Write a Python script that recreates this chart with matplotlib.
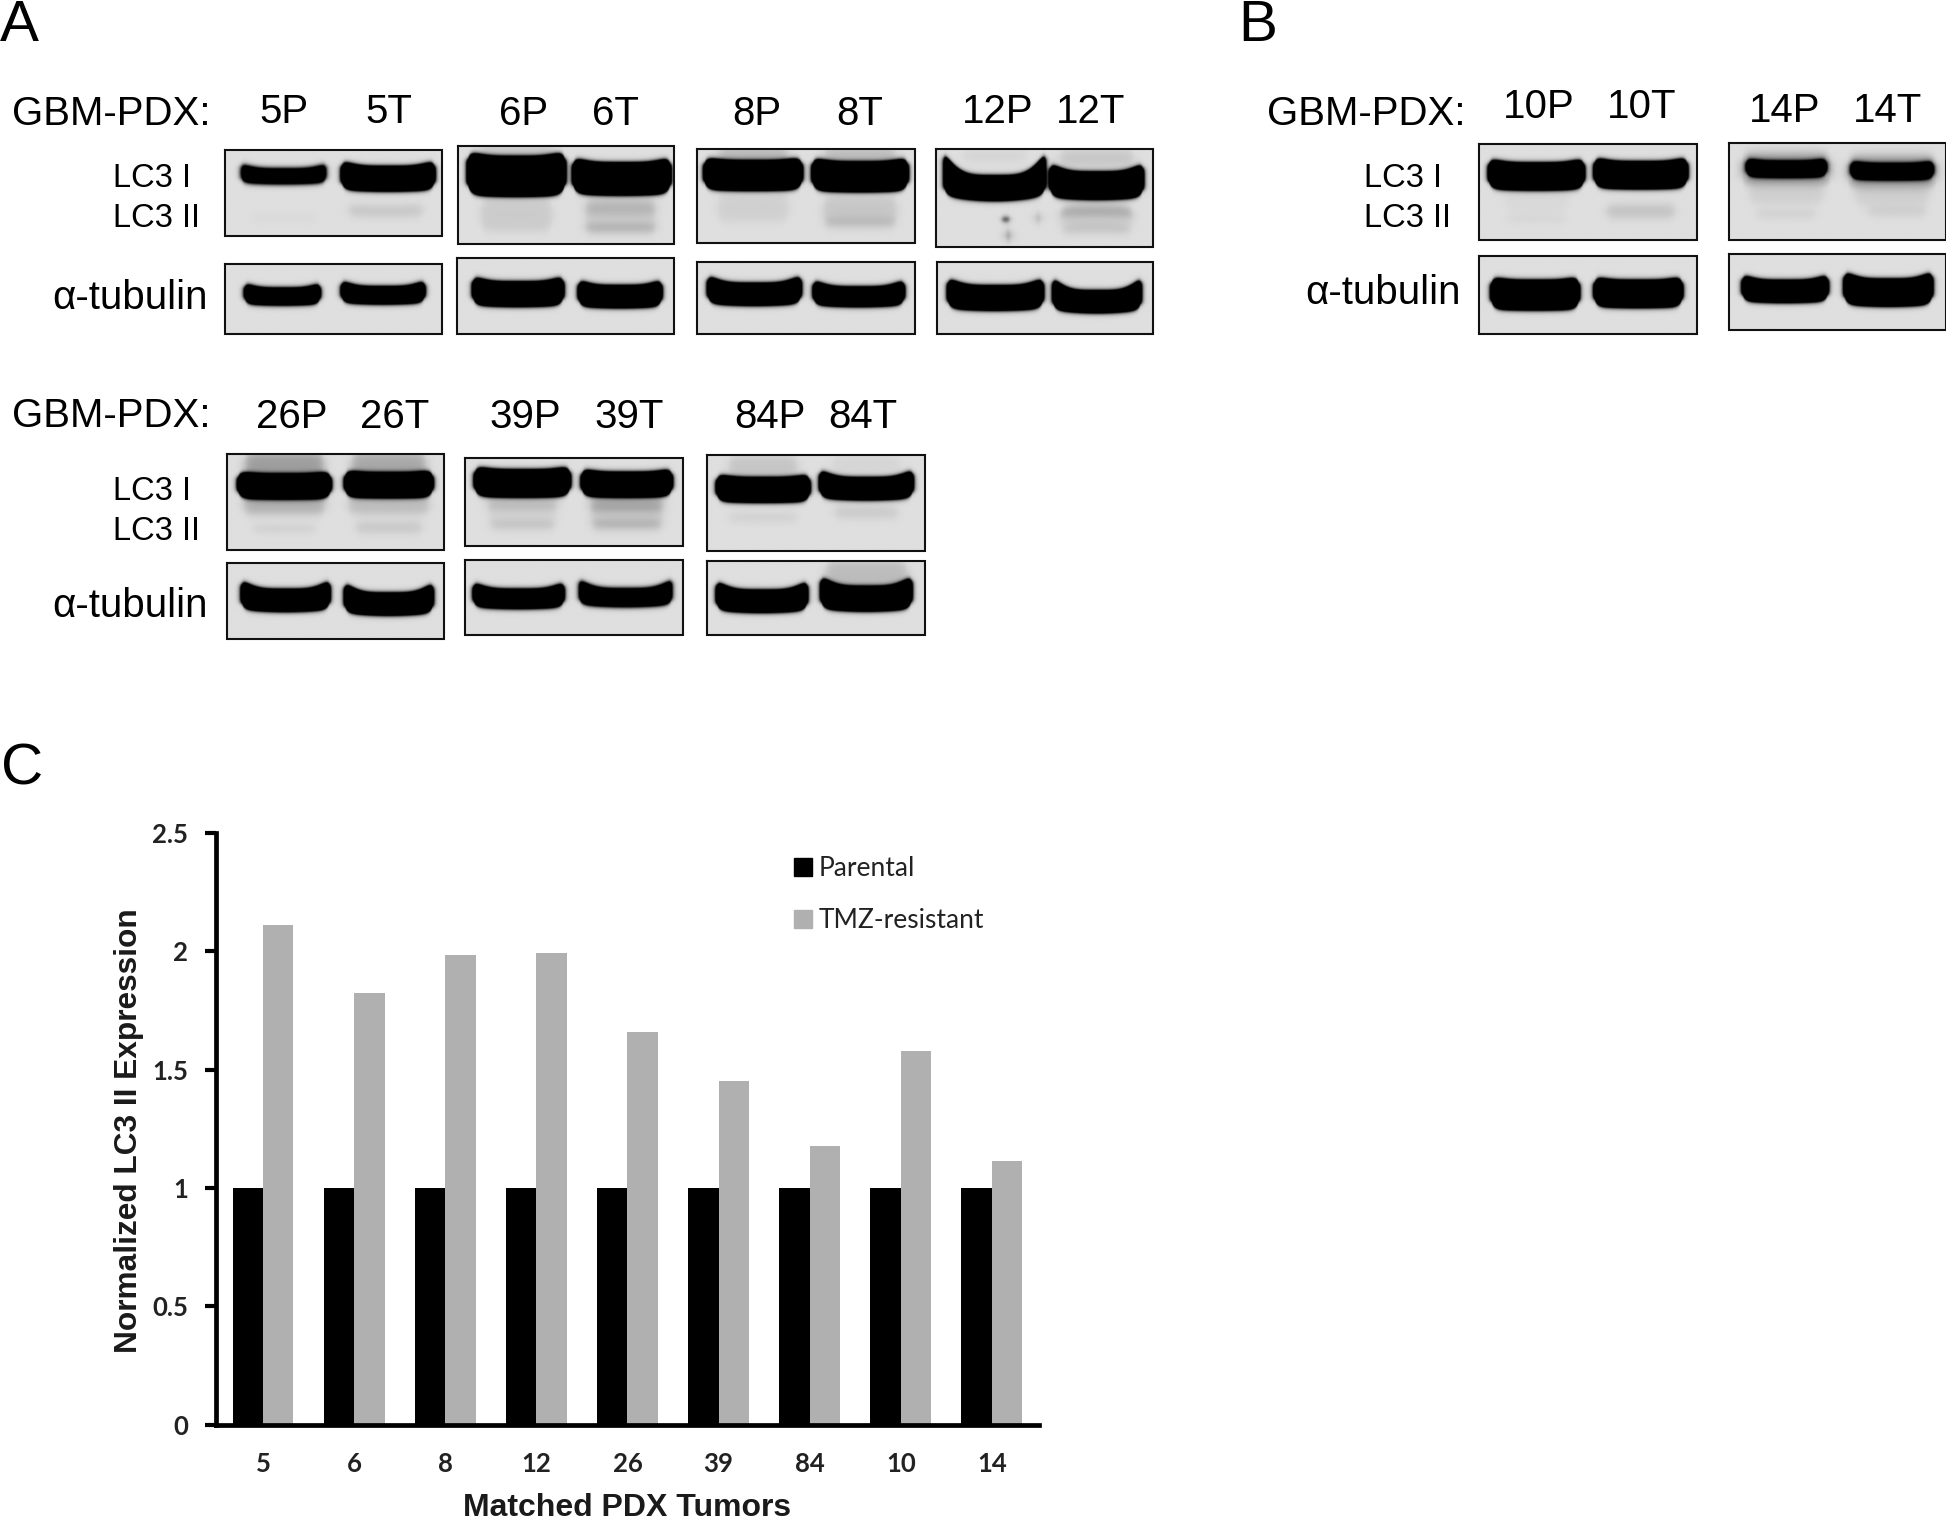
import numpy as np
import matplotlib
matplotlib.use("Agg")
import matplotlib.pyplot as plt
from matplotlib.patches import Patch

# ---------- bar chart data ----------
tumors = ["5", "6", "8", "12", "26", "39", "84", "10", "14"]
parental = [1, 1, 1, 1, 1, 1, 1, 1, 1]
resistant = [2.11, 1.825, 1.985, 1.99, 1.66, 1.45, 1.175, 1.58, 1.115]
y_ticks = [0, 0.5, 1, 1.5, 2, 2.5]
y_tick_labels = ["0", "0.5", "1", "1.5", "2", "2.5"]

# ---------- lane labels: (text, centre x, baseline y) ----------
lane_labels = [
    ("5P", 229, 99), ("5T", 313, 99), ("6P", 422, 101), ("6T", 496, 101),
    ("8P", 610, 101), ("8T", 693, 101), ("12P", 804, 99), ("12T", 879, 99),
    ("26P", 235, 345), ("26T", 318, 345), ("39P", 423, 345), ("39T", 507, 345),
    ("84P", 620, 345), ("84T", 695, 345),
    ("10P", 1240, 95), ("10T", 1323, 95), ("14P", 1438, 98), ("14T", 1521, 98),
]
gbm_labels = [(10, 101), (10, 344), (1021, 101)]
lc3_labels = [(91, 151), (91, 403), (1099, 151)]
tubulin_labels = [(167, 249), (167, 497), (1177, 245)]
letters = [("A", 0, 33), ("B", 998, 33), ("C", 1, 632)]

# ---------- blot panels: box (x0, y0, x1, y1) and bands
# band = (centre x, centre y, half width, half height, strength, end lift)
S = 6
blots = [
    # LC3 row 1
    ((181, 121, 356, 190), [(47, 21, 34, 6, 2.0, 5), (131, 23, 37, 9, S, 6),
                            (129, 49, 30, 4, .13, 1), (47, 55, 28, 3, .03, 0)]),
    ((369, 118, 543, 197), [(47, 25, 39, 15, S, 6), (132, 27, 39, 12, S, 6),
                            (47, 56, 29, 13, .09, 0), (131, 50, 29, 6, .15, 0), (131, 66, 29, 3, .2, 0),
                            (131, 58, 29, 12, .06, 0), (47, 6, 30, 6, .1, 0)]),
    ((562, 120, 737, 196), [(45, 22, 39, 11, S, 4), (131, 23, 38, 11, S, 5),
                            (45, 48, 29, 11, .07, 0), (131, 50, 30, 11, .11, 0), (131, 60, 29, 3, .13, 0),
                            (45, 5, 28, 6, .18, 0), (131, 5, 29, 6, .16, 0)]),
    ((754, 120, 929, 199), [(47, 32, 40, 9, S, 20), (129, 30, 37, 10, S, 9),
                            (129, 50, 30, 4, .22, -4), (129, 64, 28, 3, .1, -3), (129, 57, 30, 10, .06, 0),
                            (56, 57, 3, 1, 1.2, 0), (58, 70, 2, 1.5, .7, 0), (82, 56, 2, 1, .5, 0),
                            (47, 6, 26, 5, .05, 0), (129, 8, 30, 6, .12, 0)]),
    # LC3 row 2
    ((183, 366, 358, 443), [(46, 26, 37, 9, S, 3), (130, 25, 35, 9, S, 3),
                            (46, 41, 33, 7, .22, 0), (130, 41, 33, 7, .16, 0), (46, 60, 25, 1.5, .12, 0),
                            (130, 59, 27, 4, .12, 0), (46, 8, 32, 9, .3, 0), (130, 8, 30, 9, .25, 0)]),
    ((375, 369, 550, 440), [(46, 21, 38, 10, S, 4), (130, 22, 36, 9, S, 4),
                            (46, 38, 29, 4, .16, 0), (130, 38, 30, 5, .24, 0), (46, 54, 26, 3, .13, 0),
                            (130, 54, 28, 3, .2, 0), (130, 46, 30, 9, .08, 0), (46, 46, 28, 9, .04, 0)]),
    ((570, 367, 745, 444), [(45, 28, 37, 9, S, 4), (128, 27, 37, 8, S, 8),
                            (45, 50, 28, 3, .08, 0), (128, 46, 26, 4, .11, 0), (45, 9, 28, 8, .12, 0),
                            (128, 7, 28, 6, .05, 0)]),
    # LC3 panel B
    ((1192, 116, 1367, 193), [(46, 26, 38, 10, S, 5), (130, 25, 37, 10, S, 5),
                              (46, 60, 24, 2, .06, 0), (130, 54, 28, 5, .14, 0), (46, 45, 26, 9, .03, 0)]),
    ((1393, 115, 1568, 193), [(46, 21, 32, 6, 2.4, 3), (131, 23, 33, 6, 2.4, 3),
                              (46, 21, 36, 13, .3, 0), (131, 23, 36, 13, .3, 0),
                              (46, 42, 30, 7, .07, 0), (131, 43, 30, 7, .07, 0),
                              (46, 57, 24, 2, .1, 0), (135, 55, 24, 3, .1, 0)]),
    # tubulin row 1
    ((181, 213, 356, 269), [(46, 26, 30, 6, 5, 5), (127, 25, 33, 6, S, 6)]),
    ((368, 208, 543, 269), [(49, 29, 36, 9, S, 6), (131, 31, 33, 8, S, 6)]),
    ((562, 211, 737, 269), [(46, 26, 37, 8, S, 8), (130, 28, 36, 7, S, 7)]),
    ((755, 211, 929, 269), [(47, 29, 38, 9, S, 8), (129, 32, 35, 8, S, 12)]),
    # tubulin row 2
    ((183, 454, 358, 515), [(47, 30, 35, 8, S, 9), (130, 33, 35, 8, S, 10)]),
    ((375, 451, 550, 512), [(43, 32, 36, 7, 5, 7), (129, 31, 37, 7, 2.6, 9)]),
    ((570, 452, 745, 512), [(44, 33, 36, 8, S, 9), (128, 31, 36, 9, S, 10), (128, 11, 33, 10, .16, 0)]),
    # tubulin panel B
    ((1192, 206, 1367, 269), [(45, 32, 35, 11, S, 4), (128, 31, 35, 10, S, 4)]),
    ((1393, 205, 1568, 266), [(45, 30, 34, 8, S, 6), (128, 31, 35, 10, S, 8)]),
]
BACKGROUND = 0.875


def smooth(d, edge):
    return 1 / (1 + np.exp(np.clip(-d / edge, -50, 50)))


def blot_image(box, bands):
    w, h = box[2] - box[0], box[3] - box[1]
    xs, ys = np.meshgrid(np.linspace(0, w, int(w * 3)), np.linspace(0, h, int(h * 3)))
    dens = np.zeros_like(xs)
    for xc, yc, hw, hh, st, lift in bands:
        edge = 1.2 if st > 1 else 2.2
        # saturated bands spread past their edge: pull them back a little
        shift = 0.35 * edge * np.log(st - 1) if st > 2 else 0
        u = np.minimum(np.abs(xs - xc) / hw, 1.0)
        r = np.sqrt(1 - 0.7 * u ** 10)
        top = yc - hh * r - lift * u ** 4
        bot = yc + hh * r - 0.2 * lift * u ** 2
        dens += st * smooth(hw - shift - np.abs(xs - xc), edge) \
            * smooth(ys - top - shift, edge) * smooth(bot - ys - shift, edge)
    return BACKGROUND * np.clip(1 - dens, 0, 1)


SANS = "Liberation Sans"
fig = plt.figure(figsize=(19.46, 15.19), dpi=100, facecolor="white")

ov = fig.add_axes([0, 0, 1, 1])
ov.axis("off")

for box, bands in blots:
    ov.imshow(blot_image(box, bands), cmap="gray", vmin=0, vmax=1, aspect="auto",
              extent=(box[0], box[2], box[3], box[1]), interpolation="bilinear")
    ov.plot([box[0], box[2], box[2], box[0], box[0]], [box[1], box[1], box[3], box[3], box[1]],
            color="#111111", lw=1.5, solid_joinstyle="miter")
ov.set_xlim(0, 1568)
ov.set_ylim(1224, 0)

for t, x, y in lane_labels:
    ov.text(x, y, t, ha="center", va="baseline", family=SANS, fontsize=29)
for x, y in gbm_labels:
    ov.text(x, y, "GBM-PDX:", ha="left", va="baseline", family=SANS, fontsize=29)
for x, y in lc3_labels:
    ov.text(x, y, "LC3 I", ha="left", va="baseline", family=SANS, fontsize=23.5)
    ov.text(x, y + 32, "LC3 II", ha="left", va="baseline", family=SANS, fontsize=23.5)
for x, y in tubulin_labels:
    ov.text(x, y, "α-tubulin", ha="right", va="baseline", family=SANS, fontsize=29)
for t, x, y in letters:
    ov.text(x, y, t, ha="left", va="baseline", family=SANS, fontsize=42)

# bar chart
L, R, T, B = 174 / 1568, 837 / 1568, 671 / 1224, 1148 / 1224
ax = fig.add_axes([L, 1 - B, R - L, B - T])
ax.patch.set_alpha(0)
pos = np.arange(len(tumors))
bw = 0.334
ax.bar(pos - bw / 2, parental, bw, color="black", label="Parental")
ax.bar(pos + bw / 2, resistant, bw, color="#b0b0b0", label="TMZ-resistant")
ax.set_xlim(-0.517, 8.515)
ax.set_ylim(0, 2.5)
ax.set_yticks(y_ticks, y_tick_labels)
ax.set_xticks(pos, tumors)
for s in ("top", "right"):
    ax.spines[s].set_visible(False)
ax.spines["left"].set_linewidth(3.4)
ax.spines["bottom"].set_linewidth(3.4)
ax.tick_params(axis="y", length=8, width=3, pad=12)
ax.tick_params(axis="x", length=0, pad=20)
for lab in ax.get_xticklabels() + ax.get_yticklabels():
    lab.set_family("Lato")
    lab.set_fontweight("bold")
    lab.set_fontsize(18.5)
    lab.set_color("#222222")

fig.text(104 / 1568, 1 - 911 / 1224, "Normalized LC3 II Expression", rotation=90, ha="center", va="center",
         family=SANS, fontweight="bold", fontsize=22.8, color="#1a1a1a")
fig.text(505 / 1568, 1 - 1215 / 1224, "Matched PDX Tumors", ha="center", va="center",
         family=SANS, fontweight="bold", fontsize=23, color="#1a1a1a")

handles = [Patch(color="black", label="Parental"), Patch(color="#b0b0b0", label="TMZ-resistant")]
leg = ax.legend(handles=handles, loc="upper left", bbox_to_anchor=(640 / 1568, 1 - 690 / 1224),
                bbox_transform=fig.transFigure, frameon=False, handlelength=0.66, handleheight=0.66,
                handletextpad=0.28, labelspacing=1.03, borderpad=0, borderaxespad=0,
                prop={"family": "Lato", "size": 19})
for t in leg.get_texts():
    t.set_color("#222222")

fig.savefig("out.png", dpi=100, facecolor="white")
